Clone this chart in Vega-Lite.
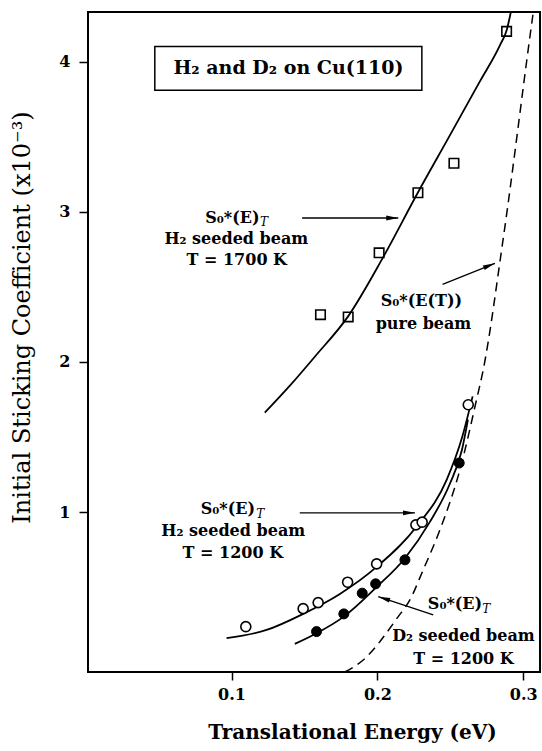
{
  "$schema": "https://vega.github.io/schema/vega-lite/v6.json",
  "width": 452,
  "height": 660,
  "autosize": {"type": "none"},
  "padding": {"left": 88, "top": 12, "right": 2, "bottom": 79},
  "background": "white",
  "config": {"view": {"stroke": "black", "strokeWidth": 2}, "font": "DejaVu Serif"},
  "datasets": {
    "curves": [
      {"series": "h1700", "i": 0, "x": 0.1228, "y": 1.662},
      {"series": "h1700", "i": 1, "x": 0.14, "y": 1.842},
      {"series": "h1700", "i": 2, "x": 0.1571, "y": 2.035},
      {"series": "h1700", "i": 3, "x": 0.1798, "y": 2.302},
      {"series": "h1700", "i": 4, "x": 0.2038, "y": 2.695},
      {"series": "h1700", "i": 5, "x": 0.2278, "y": 3.129},
      {"series": "h1700", "i": 6, "x": 0.2497, "y": 3.509},
      {"series": "h1700", "i": 7, "x": 0.2703, "y": 3.869},
      {"series": "h1700", "i": 8, "x": 0.284, "y": 4.109},
      {"series": "h1700", "i": 9, "x": 0.2888, "y": 4.215},
      {"series": "h1700", "i": 10, "x": 0.2916, "y": 4.335},
      {"series": "h1200", "i": 0, "x": 0.0966, "y": 0.16},
      {"series": "h1200", "i": 1, "x": 0.124, "y": 0.215},
      {"series": "h1200", "i": 2, "x": 0.1491, "y": 0.322},
      {"series": "h1200", "i": 3, "x": 0.1743, "y": 0.455},
      {"series": "h1200", "i": 4, "x": 0.1995, "y": 0.635},
      {"series": "h1200", "i": 5, "x": 0.2269, "y": 0.904},
      {"series": "h1200", "i": 6, "x": 0.2475, "y": 1.215},
      {"series": "h1200", "i": 7, "x": 0.258, "y": 1.495},
      {"series": "h1200", "i": 8, "x": 0.2653, "y": 1.771},
      {"series": "d1200", "i": 0, "x": 0.1434, "y": 0.122},
      {"series": "d1200", "i": 1, "x": 0.1583, "y": 0.193},
      {"series": "d1200", "i": 2, "x": 0.177, "y": 0.304},
      {"series": "d1200", "i": 3, "x": 0.1988, "y": 0.495},
      {"series": "d1200", "i": 4, "x": 0.2189, "y": 0.693},
      {"series": "d1200", "i": 5, "x": 0.236, "y": 0.935},
      {"series": "d1200", "i": 6, "x": 0.2497, "y": 1.189},
      {"series": "d1200", "i": 7, "x": 0.258, "y": 1.415},
      {"series": "d1200", "i": 8, "x": 0.2621, "y": 1.616}
    ],
    "pure": [
      {"i": 0, "x": 0.1777, "y": -0.065},
      {"i": 1, "x": 0.1903, "y": 0.015},
      {"i": 2, "x": 0.2143, "y": 0.304},
      {"i": 3, "x": 0.2223, "y": 0.415},
      {"i": 4, "x": 0.2314, "y": 0.615},
      {"i": 5, "x": 0.2429, "y": 0.882},
      {"i": 6, "x": 0.2566, "y": 1.282},
      {"i": 7, "x": 0.268, "y": 1.749},
      {"i": 8, "x": 0.2726, "y": 1.949},
      {"i": 9, "x": 0.2861, "y": 2.809},
      {"i": 10, "x": 0.3067, "y": 4.317},
      {"i": 11, "x": 0.3069, "y": 4.331}
    ],
    "points": [
      {"kind": "square", "x": 0.161, "y": 2.315},
      {"kind": "square", "x": 0.18, "y": 2.30},
      {"kind": "square", "x": 0.2012, "y": 2.727},
      {"kind": "square", "x": 0.2278, "y": 3.127},
      {"kind": "square", "x": 0.2525, "y": 3.324},
      {"kind": "square", "x": 0.2886, "y": 4.202},
      {"kind": "open", "x": 0.1098, "y": 0.237},
      {"kind": "open", "x": 0.1491, "y": 0.357},
      {"kind": "open", "x": 0.1594, "y": 0.397},
      {"kind": "open", "x": 0.1796, "y": 0.533},
      {"kind": "open", "x": 0.1995, "y": 0.655},
      {"kind": "open", "x": 0.2264, "y": 0.915},
      {"kind": "open", "x": 0.2307, "y": 0.933},
      {"kind": "open", "x": 0.2623, "y": 1.715},
      {"kind": "filled", "x": 0.1583, "y": 0.204},
      {"kind": "filled", "x": 0.177, "y": 0.322},
      {"kind": "filled", "x": 0.1896, "y": 0.46},
      {"kind": "filled", "x": 0.1988, "y": 0.522},
      {"kind": "filled", "x": 0.2189, "y": 0.682},
      {"kind": "filled", "x": 0.2561, "y": 1.327}
    ],
    "arrows": [
      {"id": "a1", "x": 0.1484, "y": 2.959, "x2": 0.2143, "y2": 2.959},
      {"id": "a2", "x": 0.2447, "y": 2.517, "x2": 0.2806, "y2": 2.657},
      {"id": "a3", "x": 0.1468, "y": 0.995, "x2": 0.2258, "y2": 0.995},
      {"id": "a4", "x": 0.2383, "y": 0.315, "x2": 0.2006, "y2": 0.437}
    ],
    "labels": [
      {"x": 0.1006, "y": 2.962, "text": "S₀*(E)"},
      {"x": 0.1033, "y": 2.822, "text": "H₂ seeded beam"},
      {"x": 0.1036, "y": 2.682, "text": "T = 1700 K"},
      {"x": 0.2302, "y": 2.404, "text": "S₀*(E(T))"},
      {"x": 0.2316, "y": 2.255, "text": "pure beam"},
      {"x": 0.0975, "y": 1.022, "text": "S₀*(E)"},
      {"x": 0.1012, "y": 0.871, "text": "H₂ seeded beam"},
      {"x": 0.1009, "y": 0.729, "text": "T = 1200 K"},
      {"x": 0.2532, "y": 0.389, "text": "S₀*(E)"},
      {"x": 0.259, "y": 0.175, "text": "D₂ seeded beam"},
      {"x": 0.259, "y": 0.022, "text": "T = 1200 K"}
    ],
    "subs": [
      {"x": 0.1196, "y": 2.93, "text": "T"},
      {"x": 0.1169, "y": 0.99, "text": "T"},
      {"x": 0.2719, "y": 0.355, "text": "T"}
    ],
    "box": [
      {"x": 0.0474, "x2": 0.2305, "y": 4.102, "y2": 3.809, "cx": 0.139, "cy": 3.955, "text": "H₂ and D₂ on Cu(110)"}
    ]
  },
  "encoding": {
    "x": {
      "field": "x", "type": "quantitative",
      "scale": {"domain": [0.0016, 0.3115], "nice": false, "zero": false},
      "axis": {
        "values": [0.1, 0.2, 0.3], "format": ".1f", "title": "Translational Energy (eV)",
        "grid": false, "domain": false, "tickSize": 8, "tickWidth": 1.5, "tickColor": "black",
        "labelFont": "DejaVu Serif", "labelFontWeight": "bold", "labelFontSize": 16, "labelColor": "black", "labelPadding": 6,
        "titleFont": "DejaVu Serif", "titleFontWeight": "bold", "titleFontSize": 20, "titleColor": "black", "titlePadding": 20,
        "titleX": 264
      }
    },
    "y": {
      "field": "y", "type": "quantitative",
      "scale": {"domain": [-0.065, 4.331], "nice": false, "zero": false},
      "axis": {
        "values": [1, 2, 3, 4], "format": "d", "title": "Initial Sticking Coefficient (x10⁻³)",
        "grid": false, "domain": false, "tickSize": 9, "tickWidth": 1.5, "tickColor": "black",
        "labelFont": "DejaVu Serif", "labelFontWeight": "bold", "labelFontSize": 16, "labelColor": "black", "labelPadding": 9,
        "titleFont": "DejaVu Serif", "titleFontWeight": "normal", "titleFontSize": 24, "titleColor": "black", "titlePadding": 24,
        "titleY": 305
      }
    }
  },
  "layer": [
    {
      "data": {"name": "curves"},
      "mark": {"type": "line", "color": "black", "strokeWidth": 1.8, "interpolate": "monotone", "clip": true},
      "encoding": {"detail": {"field": "series"}, "order": {"field": "i", "type": "quantitative"}}
    },
    {
      "data": {"name": "pure"},
      "mark": {"type": "line", "color": "black", "strokeWidth": 1.5, "strokeDash": [9, 6], "interpolate": "monotone", "clip": true},
      "encoding": {"order": {"field": "i", "type": "quantitative"}}
    },
    {
      "data": {"name": "box"},
      "mark": {"type": "rect", "fill": "white", "stroke": "black", "strokeWidth": 1.5},
      "encoding": {"x2": {"field": "x2"}, "y2": {"field": "y2"}}
    },
    {
      "data": {"name": "box"},
      "mark": {"type": "text", "font": "DejaVu Serif", "fontWeight": "bold", "fontSize": 19, "color": "black", "align": "center", "baseline": "middle"},
      "encoding": {"x": {"field": "cx", "type": "quantitative"}, "y": {"field": "cy", "type": "quantitative"}, "text": {"field": "text"}}
    },
    {
      "data": {"name": "points"},
      "transform": [{"filter": "datum.kind === 'square'"}],
      "mark": {"type": "point", "shape": "square", "size": 90, "filled": false, "stroke": "black", "strokeWidth": 1.6, "opacity": 1}
    },
    {
      "data": {"name": "points"},
      "transform": [{"filter": "datum.kind === 'open'"}],
      "mark": {"type": "point", "shape": "circle", "size": 100, "filled": true, "fill": "white", "stroke": "black", "strokeWidth": 1.6, "opacity": 1}
    },
    {
      "data": {"name": "points"},
      "transform": [{"filter": "datum.kind === 'filled'"}],
      "mark": {"type": "point", "shape": "circle", "size": 100, "filled": true, "fill": "black", "stroke": "black", "strokeWidth": 1, "opacity": 1}
    },
    {
      "data": {"name": "arrows"},
      "mark": {"type": "rule", "color": "black", "strokeWidth": 1.3},
      "encoding": {"x2": {"field": "x2"}, "y2": {"field": "y2"}}
    },
    {
      "data": {"name": "arrows"},
      "transform": [{"filter": "datum.id === 'a1' || datum.id === 'a3'"}],
      "mark": {"type": "point", "shape": "M0,0L-2,-0.4L-2,0.4Z", "size": 144, "filled": true, "color": "black", "opacity": 1, "angle": 0},
      "encoding": {"x": {"field": "x2", "type": "quantitative"}, "y": {"field": "y2", "type": "quantitative"}}
    },
    {
      "data": {"name": "arrows"},
      "transform": [{"filter": "datum.id === 'a2'"}],
      "mark": {"type": "point", "shape": "M0,0L-2,-0.4L-2,0.4Z", "size": 144, "filled": true, "color": "black", "opacity": 1, "angle": 338},
      "encoding": {"x": {"field": "x2", "type": "quantitative"}, "y": {"field": "y2", "type": "quantitative"}}
    },
    {
      "data": {"name": "arrows"},
      "transform": [{"filter": "datum.id === 'a4'"}],
      "mark": {"type": "point", "shape": "M0,0L-2,-0.4L-2,0.4Z", "size": 144, "filled": true, "color": "black", "opacity": 1, "angle": 198},
      "encoding": {"x": {"field": "x2", "type": "quantitative"}, "y": {"field": "y2", "type": "quantitative"}}
    },
    {
      "data": {"name": "labels"},
      "mark": {"type": "text", "font": "DejaVu Serif", "fontWeight": "bold", "fontSize": 16, "color": "black", "align": "center", "baseline": "middle"},
      "encoding": {"text": {"field": "text"}}
    },
    {
      "data": {"name": "subs"},
      "mark": {"type": "text", "font": "DejaVu Serif", "fontStyle": "italic", "fontSize": 12, "color": "black", "align": "left", "baseline": "middle"},
      "encoding": {"text": {"field": "text"}}
    }
  ]
}
